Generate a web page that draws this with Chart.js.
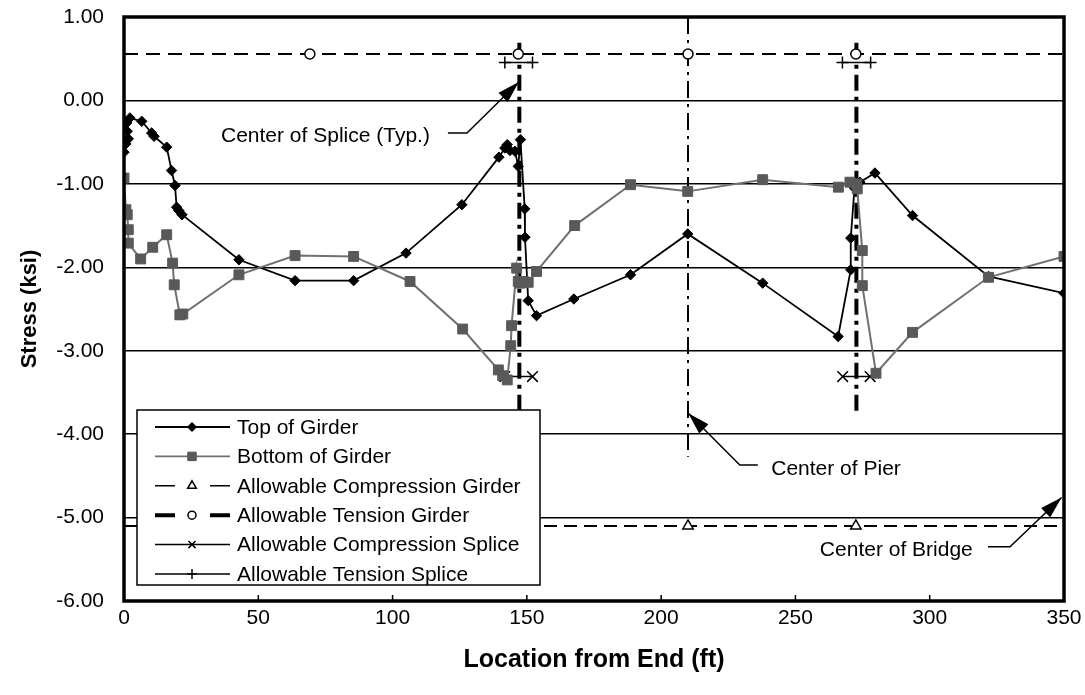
<!DOCTYPE html>
<html>
<head>
<meta charset="utf-8">
<style>
  html, body { margin: 0; padding: 0; background: #fff; }
  #wrap { width: 1085px; height: 695px; }
</style>
<script src="https://cdn.jsdelivr.net/npm/chart.js@4.4.0/dist/chart.umd.min.js"></script>
</head>
<body>
<div id="wrap"><canvas id="chart" width="1085" height="695"></canvas></div>
<script>
// DATA
// -----------------------------------------------------------------------------
var topX = [0, 0.7, 1.6, 1.2, 1.0, 2.2, 6.6, 10.3, 11.2, 15.9, 17.7, 19.0, 19.6, 20.4, 21.6,
            42.8, 63.7, 85.5, 105.0, 125.8, 139.6, 141.8, 142.7, 143.7, 145.6, 146.8, 147.6,
            149.2, 149.3, 150.5, 153.6, 167.5, 188.6, 209.9, 237.8, 265.9, 270.6, 270.6,
            272.0, 273.0, 274.0, 279.6, 293.6, 321.9, 350.0];
var topY = [-0.62, -0.52, -0.46, -0.37, -0.27, -0.21, -0.25, -0.39, -0.43, -0.56, -0.84, -1.02, -1.28, -1.32, -1.37,
            -1.91, -2.16, -2.16, -1.83, -1.25, -0.68, -0.57, -0.53, -0.60, -0.61, -0.79, -0.47,
            -1.30, -1.64, -2.40, -2.58, -2.38, -2.09, -1.60, -2.19, -2.83, -2.03, -1.65,
            -1.05, -1.00, -0.98, -0.87, -1.38, -2.11, -2.31];

var botX = [0, 0.7, 1.2, 1.6, 1.6, 6.2, 10.7, 15.9, 18.1, 18.7, 20.8, 21.9, 42.8, 63.7, 85.5,
            106.5, 126.1, 139.4, 141.0, 142.7, 144.0, 144.3, 146.2, 146.8, 147.5, 148.7, 150.5,
            153.6, 167.8, 188.6, 209.9, 237.8, 266.0, 270.3, 272.8, 273.0, 274.9, 274.9, 280.0,
            293.6, 321.9, 350.0];
var botY = [-0.93, -1.31, -1.37, -1.55, -1.71, -1.90, -1.76, -1.61, -1.95, -2.21, -2.57, -2.56, -2.09, -1.86, -1.87,
            -2.17, -2.74, -3.23, -3.30, -3.35, -2.94, -2.70, -2.01, -2.17, -2.19, -2.17, -2.18,
            -2.05, -1.50, -1.01, -1.09, -0.95, -1.04, -0.98, -1.00, -1.06, -1.80, -2.22, -3.27,
            -2.78, -2.12, -1.87];

// allowable stresses (ksi)
var girderMarkX = [0, 69.2, 146.8, 210, 272.5, 350];
var allowCompGirder = -5.10;
var allowTensGirder = 0.556;
var spliceCompX = [[141.8, 152.1], [267.6, 277.8]];
var allowCompSplice = -3.31;
var spliceTensX = [[141.8, 152.1], [267.5, 278.0]];
var allowTensSplice = 0.456;

// reference lines
var spliceX = [147.2, 272.7];
var spliceSpan = [0.69, -3.77];
var pierX = 210;
var pierSpan = [1.0, -4.27];

// axes
var xTicks = [0, 50, 100, 150, 200, 250, 300, 350];
var yTicks = [1, 0, -1, -2, -3, -4, -5, -6];

// callouts
var notes = [
    { text: 'Center of Splice (Typ.)', at: [113.9, -0.43], align: 'right',
      leader: [[120.6, -0.39], [127.7, -0.39], [147.0, 0.22]] },
    { text: 'Center of Pier', at: [241.0, -4.42], align: 'left',
      leader: [[236.0, -4.37], [229.3, -4.37], [210.1, -3.75]] },
    { text: 'Center of Bridge', at: [259.1, -5.39], align: 'left',
      leader: [[321.7, -5.35], [329.9, -5.35], [349.1, -4.76]] }
];

// HELPERS
// -----------------------------------------------------------------------------
var FONT = "'Liberation Sans', Arial, sans-serif";

function pts(xs, ys) {
    return xs.map(function(x, i) { return { x: x, y: ys[i] }; });
}

function flatLine(xs, y) {
    return xs.map(function(x) { return { x: x, y: y }; });
}

function pairs(groups, y) {
    var out = [];
    groups.forEach(function(g, i) {
        if (i > 0) out.push({ x: (groups[i - 1][1] + g[0]) / 2, y: null });
        g.forEach(function(x) { out.push({ x: x, y: y }); });
    });
    return out;
}

function vLines(xs, span) {
    var out = [];
    xs.forEach(function(x, i) {
        if (i > 0) out.push({ x: x, y: null });
        out.push({ x: x, y: span[0] });
        out.push({ x: x, y: span[1] });
    });
    return out;
}

// no markers on the line ends at 0 and 350
function innerRadius(xs, r) {
    return xs.map(function(x, i) { return (i === 0 || i === xs.length - 1) ? 0 : r; });
}

// keep tick labels from pushing the plot area in
function noPad(s) {
    s.paddingTop = 0; s.paddingBottom = 0; s.paddingLeft = 0; s.paddingRight = 0;
}

// DATASETS
// -----------------------------------------------------------------------------
var datasets = [{
    label: 'Top of Girder',
    data: pts(topX, topY),
    borderColor: '#000', borderWidth: 1.8,
    pointStyle: 'rectRot', pointRadius: 5.2,
    pointBackgroundColor: '#000', pointBorderColor: '#000', pointBorderWidth: 1,
    order: 2
}, {
    label: 'Bottom of Girder',
    data: pts(botX, botY),
    borderColor: '#707070', borderWidth: 2,
    pointStyle: 'rect', pointRadius: 7,
    pointBackgroundColor: '#595959', pointBorderColor: '#595959', pointBorderWidth: 1,
    order: 1
}, {
    label: 'Allowable Compression Girder',
    data: flatLine(girderMarkX, allowCompGirder),
    borderColor: '#000', borderWidth: 2, borderDash: [13, 7],
    pointStyle: 'triangle', pointRadius: innerRadius(girderMarkX, 6),
    pointBackgroundColor: '#fff', pointBorderColor: '#000', pointBorderWidth: 1.5,
    order: 3
}, {
    label: 'Allowable Tension Girder',
    data: flatLine(girderMarkX, allowTensGirder),
    borderColor: '#000', borderWidth: 2, borderDash: [14, 8],
    pointStyle: 'circle', pointRadius: innerRadius(girderMarkX, 5),
    pointBackgroundColor: '#fff', pointBorderColor: '#000', pointBorderWidth: 1.5,
    order: 3
}, {
    label: 'Allowable Compression Splice',
    data: pairs(spliceCompX, allowCompSplice),
    borderColor: '#000', borderWidth: 1.5,
    pointStyle: 'crossRot', pointRadius: 7.5,
    pointBorderColor: '#000', pointBorderWidth: 1.5,
    order: 3
}, {
    label: 'Allowable Tension Splice',
    data: pairs(spliceTensX, allowTensSplice),
    borderColor: '#000', borderWidth: 1.5,
    pointStyle: 'cross', pointRadius: 6,
    pointBorderColor: '#000', pointBorderWidth: 1.5,
    order: 3
}, {
    label: 'splice',
    data: vLines(spliceX, spliceSpan),
    borderColor: '#000', borderWidth: 4, borderDash: [16, 6, 4, 6],
    pointRadius: 0,
    order: 5
}, {
    label: 'pier',
    data: vLines([pierX], pierSpan),
    borderColor: '#000', borderWidth: 2, borderDash: [17, 6, 3, 6],
    pointRadius: 0,
    order: 5
}];

datasets.forEach(function(d) {
    d.showLine = true;
    d.spanGaps = false;
    d.tension = 0;
});

// PLUGIN: callouts, legend, frame
// -----------------------------------------------------------------------------
function arrowHead(ctx, x0, y0, x1, y1) {
    var a = Math.atan2(y1 - y0, x1 - x0);
    var len = 22, hw = 6.5;
    ctx.beginPath();
    ctx.moveTo(x1, y1);
    ctx.lineTo(x1 - len * Math.cos(a) + hw * Math.sin(a), y1 - len * Math.sin(a) - hw * Math.cos(a));
    ctx.lineTo(x1 - len * Math.cos(a) - hw * Math.sin(a), y1 - len * Math.sin(a) + hw * Math.cos(a));
    ctx.closePath();
    ctx.fill();
}

function marker(ctx, style, r, x, y, fill, stroke, lw) {
    ctx.save();
    ctx.fillStyle = fill;
    ctx.strokeStyle = stroke;
    ctx.lineWidth = lw;
    ctx.setLineDash([]);
    Chart.helpers.drawPoint(ctx, { pointStyle: style, radius: r, borderWidth: lw }, x, y);
    ctx.restore();
}

var decor = {
    id: 'decor',
    afterDatasetsDraw: function(chart) {
        var ctx = chart.ctx, xs = chart.scales.x, ys = chart.scales.y, a = chart.chartArea;

        // callouts
        ctx.save();
        ctx.fillStyle = '#000';
        ctx.strokeStyle = '#000';
        ctx.lineWidth = 1.5;
        ctx.font = '21px ' + FONT;
        ctx.textBaseline = 'middle';
        notes.forEach(function(n) {
            ctx.textAlign = n.align;
            ctx.fillText(n.text, xs.getPixelForValue(n.at[0]), ys.getPixelForValue(n.at[1]));
            var p = n.leader.map(function(q) { return [xs.getPixelForValue(q[0]), ys.getPixelForValue(q[1])]; });
            ctx.beginPath();
            ctx.moveTo(p[0][0], p[0][1]);
            for (var i = 1; i < p.length; i++) ctx.lineTo(p[i][0], p[i][1]);
            ctx.stroke();
            var k = p.length - 1;
            arrowHead(ctx, p[k - 1][0], p[k - 1][1], p[k][0], p[k][1]);
        });
        ctx.restore();

        // legend
        var lx = 137, ly = 410, lw = 403, lh = 175;
        ctx.save();
        ctx.fillStyle = '#fff';
        ctx.fillRect(lx, ly, lw, lh);
        ctx.strokeStyle = '#000';
        ctx.lineWidth = 1.5;
        ctx.strokeRect(lx, ly, lw, lh);
        ctx.font = '21px ' + FONT;
        ctx.textAlign = 'left';
        ctx.textBaseline = 'middle';
        for (var i = 0; i < 6; i++) {
            var d = datasets[i];
            var y = ly + 17 + i * 29.4;
            var x0 = lx + 18, x1 = lx + 93, xm = lx + 55;
            ctx.strokeStyle = d.borderColor;
            ctx.setLineDash([]);
            if (i === 2 || i === 3) {
                ctx.lineWidth = i === 2 ? 1.5 : 4;
                ctx.beginPath();
                ctx.moveTo(x0, y); ctx.lineTo(x0 + 20, y);
                ctx.moveTo(x1 - 20, y); ctx.lineTo(x1, y);
                ctx.stroke();
            } else {
                ctx.lineWidth = i < 2 ? 1.8 : 1.5;
                ctx.beginPath();
                ctx.moveTo(x0, y); ctx.lineTo(x1, y);
                ctx.stroke();
            }
            var r = i === 0 ? 4.5 : (i === 1 ? 6 : (i === 3 ? 4 : 5));
            marker(ctx, d.pointStyle, r, xm, y, d.pointBackgroundColor || '#000', d.pointBorderColor, d.pointBorderWidth);
            ctx.fillStyle = '#000';
            ctx.fillText(d.label, lx + 100, y + 1);
        }
        ctx.restore();

        // inner ticks and frame
        ctx.save();
        ctx.strokeStyle = '#000';
        ctx.lineWidth = 1.5;
        xTicks.forEach(function(v) {
            var px = xs.getPixelForValue(v);
            ctx.beginPath();
            ctx.moveTo(px, a.bottom);
            ctx.lineTo(px, a.bottom - 6);
            ctx.stroke();
        });
        ctx.lineWidth = 3.5;
        ctx.strokeRect(a.left, a.top, a.right - a.left, a.bottom - a.top);
        ctx.restore();
    }
};

// CHART
// -----------------------------------------------------------------------------
var chart = new Chart(document.getElementById('chart'), {
    type: 'scatter',
    data: { datasets: datasets },
    options: {
        responsive: false,
        animation: false,
        devicePixelRatio: 1,
        events: [],
        layout: { padding: { top: 17, right: 21, left: 0, bottom: 0 } },
        plugins: { legend: { display: false }, tooltip: { enabled: false } },
        scales: {
            x: {
                type: 'linear', min: 0, max: 350,
                afterFit: function(s) { s.height = 94; noPad(s); },
                afterBuildTicks: function(s) { s.ticks = xTicks.map(function(v) { return { value: v }; }); },
                grid: { display: false },
                border: { display: false },
                ticks: { color: '#000', font: { family: FONT, size: 21 }, padding: -3, maxRotation: 0 },
                title: { display: true, text: 'Location from End (ft)', color: '#000',
                         font: { family: FONT, size: 25, weight: 'bold' }, padding: { top: 0, bottom: 20 } }
            },
            y: {
                type: 'linear', min: -6, max: 1,
                afterFit: function(s) { s.width = 124; noPad(s); },
                afterBuildTicks: function(s) { s.ticks = yTicks.map(function(v) { return { value: v }; }); },
                grid: { color: '#000', lineWidth: 1.5, drawTicks: false },
                border: { display: false },
                ticks: { color: '#000', font: { family: FONT, size: 21 }, padding: 20,
                         callback: function(v) { return Number(v).toFixed(2); } },
                title: { display: true, text: 'Stress (ksi)', color: '#000',
                         font: { family: FONT, size: 22, weight: 'bold' }, padding: { top: 17, bottom: 0 } }
            }
        }
    },
    plugins: [decor]
});
</script>
</body>
</html>
